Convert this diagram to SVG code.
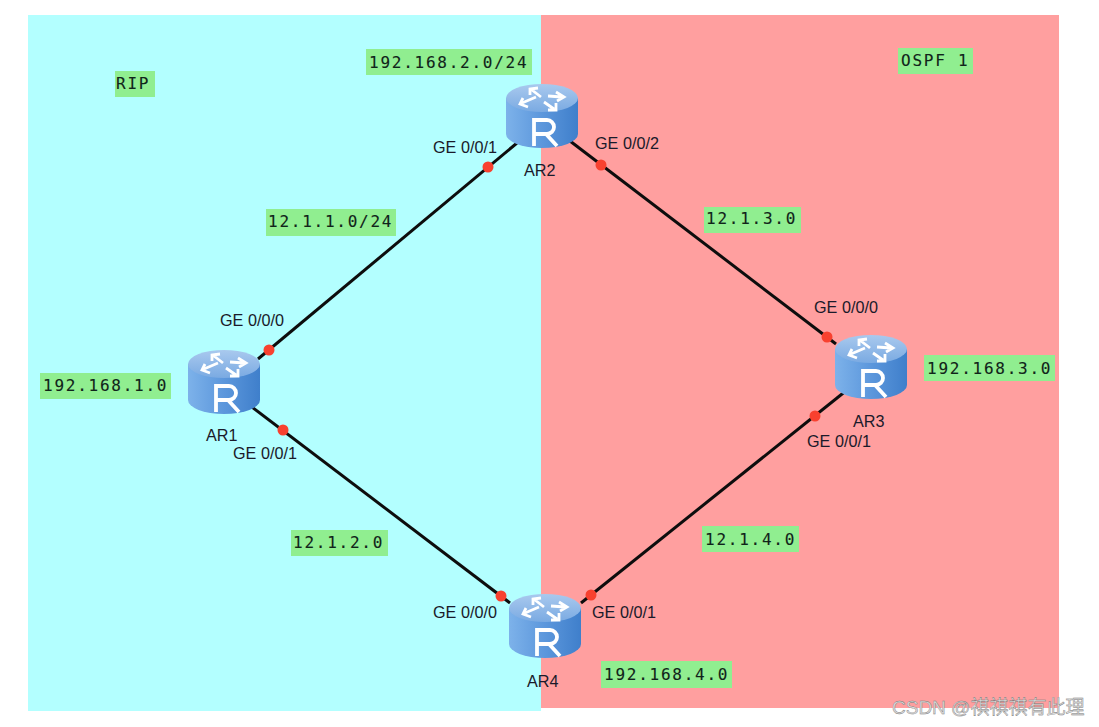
<svg xmlns="http://www.w3.org/2000/svg" width="1099" height="727" viewBox="0 0 1099 727">
  <style>
    .link { stroke: #0d0d0d; stroke-width: 3; fill: none; }
    .port { fill: #f8412f; }
    .net { fill: #90ee90; }
    .mono { font: 16px "DejaVu Sans Mono", monospace; letter-spacing: 1.75px; fill: #10241a; stroke: #10241a; stroke-width: .12px; }
    .label { font: 16.2px "Liberation Sans", Arial, sans-serif; fill: #1a1a2a; }
    .mark { font: 19px "Liberation Sans", "Noto Sans CJK SC", sans-serif; fill: #dddddd; stroke: #777; stroke-width: .4px; }
  </style>
  <defs>
    <linearGradient id="side" x1="0" x2="1" y1="0" y2="0">
      <stop offset="0" stop-color="#7db2ea"/>
      <stop offset=".5" stop-color="#5c97dc"/>
      <stop offset="1" stop-color="#3f7fcb"/>
    </linearGradient>
    <linearGradient id="top" x1="0" x2="0" y1="0" y2="1">
      <stop offset="0" stop-color="#a9c9ee"/>
      <stop offset="1" stop-color="#7aaae2"/>
    </linearGradient>
    <!-- Router: cylinder with four arrows on the lid and a white R on the front -->
    <g id="router">
      <path d="M0 14V50A36 14 0 0 0 72 50V14Z" fill="url(#side)"/>
      <ellipse cx="36" cy="14" rx="36" ry="14" fill="url(#top)"/>
      <g fill="none" stroke="#fff" stroke-width="2.8">
        <path d="M35 13 26 6M24 11 24 5 32 4"/>
        <path d="M42 12 56 13M50 8 58 13 51 17"/>
        <path d="M30 13 16 19M17 14 14 20 22 23"/>
        <path d="M38 18 48 25M50 19 50 26 42 26"/>
      </g>
      <path d="M28 62V36H41A7 7 0 0 1 41 50H29M40 50 51 62" fill="none" stroke="#fff" stroke-width="3.800"/>
    </g>
  </defs>

  <rect x="28" y="15" width="513" height="696" fill="#b3ffff"/>
  <rect x="541" y="15" width="518" height="693" fill="#ff9f9f"/>

  <g id="connectors">
    <path class="link" d="M258 359 517 143"/>
    <path class="link" d="M570 141 836 344"/>
    <path class="link" d="M252 407 510 603"/>
    <path class="link" d="M581 603 847 390"/>
    <circle class="port" cx="269" cy="350" r="5.500"/>
    <circle class="port" cx="488" cy="167" r="5.500"/>
    <circle class="port" cx="601" cy="165" r="5.500"/>
    <circle class="port" cx="827" cy="337" r="5.500"/>
    <circle class="port" cx="283" cy="430" r="5.500"/>
    <circle class="port" cx="501" cy="596" r="5.500"/>
    <circle class="port" cx="591" cy="595" r="5.500"/>
    <circle class="port" cx="815" cy="416" r="5.500"/>
  </g>

  <g id="AR1"><use href="#router" x="188" y="350"/><text class="label" x="206" y="441">AR1</text></g>
  <g id="AR2"><use href="#router" x="506" y="84"/><text class="label" x="524" y="176">AR2</text></g>
  <g id="AR3"><use href="#router" x="835" y="335"/><text class="label" x="853" y="427">AR3</text></g>
  <g id="AR4"><use href="#router" x="509" y="594"/><text class="label" x="527" y="687">AR4</text></g>

  <g id="ports">
    <text class="label" x="220" y="326">GE 0/0/0</text>
    <text class="label" x="233" y="459">GE 0/0/1</text>
    <text class="label" x="433" y="153">GE 0/0/1</text>
    <text class="label" x="595" y="149">GE 0/0/2</text>
    <text class="label" x="814" y="313">GE 0/0/0</text>
    <text class="label" x="807" y="447">GE 0/0/1</text>
    <text class="label" x="433" y="618">GE 0/0/0</text>
    <text class="label" x="592" y="618">GE 0/0/1</text>
  </g>

  <g id="networks">
    <rect class="net" x="115" y="71" width="40" height="26"/><text class="mono" x="116" y="89">RIP</text>
    <rect class="net" x="366" y="49" width="166" height="26"/><text class="mono" x="369" y="68">192.168.2.0/24</text>
    <rect class="net" x="898" y="48" width="75" height="26"/><text class="mono" x="901" y="66">OSPF 1</text>
    <rect class="net" x="266" y="209" width="130" height="27"/><text class="mono" x="268" y="227">12.1.1.0/24</text>
    <rect class="net" x="704" y="207" width="97" height="26"/><text class="mono" x="706" y="224">12.1.3.0</text>
    <rect class="net" x="40" y="373" width="131" height="26"/><text class="mono" x="43" y="391">192.168.1.0</text>
    <rect class="net" x="924" y="355" width="131" height="26"/><text class="mono" x="927" y="374">192.168.3.0</text>
    <rect class="net" x="291" y="530" width="97" height="26"/><text class="mono" x="293" y="548">12.1.2.0</text>
    <rect class="net" x="702" y="526" width="97" height="26"/><text class="mono" x="705" y="545">12.1.4.0</text>
    <rect class="net" x="601" y="661" width="131" height="27"/><text class="mono" x="604" y="680">192.168.4.0</text>
  </g>

  <text class="mark" x="892" y="714">CSDN @祺祺祺有此理</text>
</svg>
